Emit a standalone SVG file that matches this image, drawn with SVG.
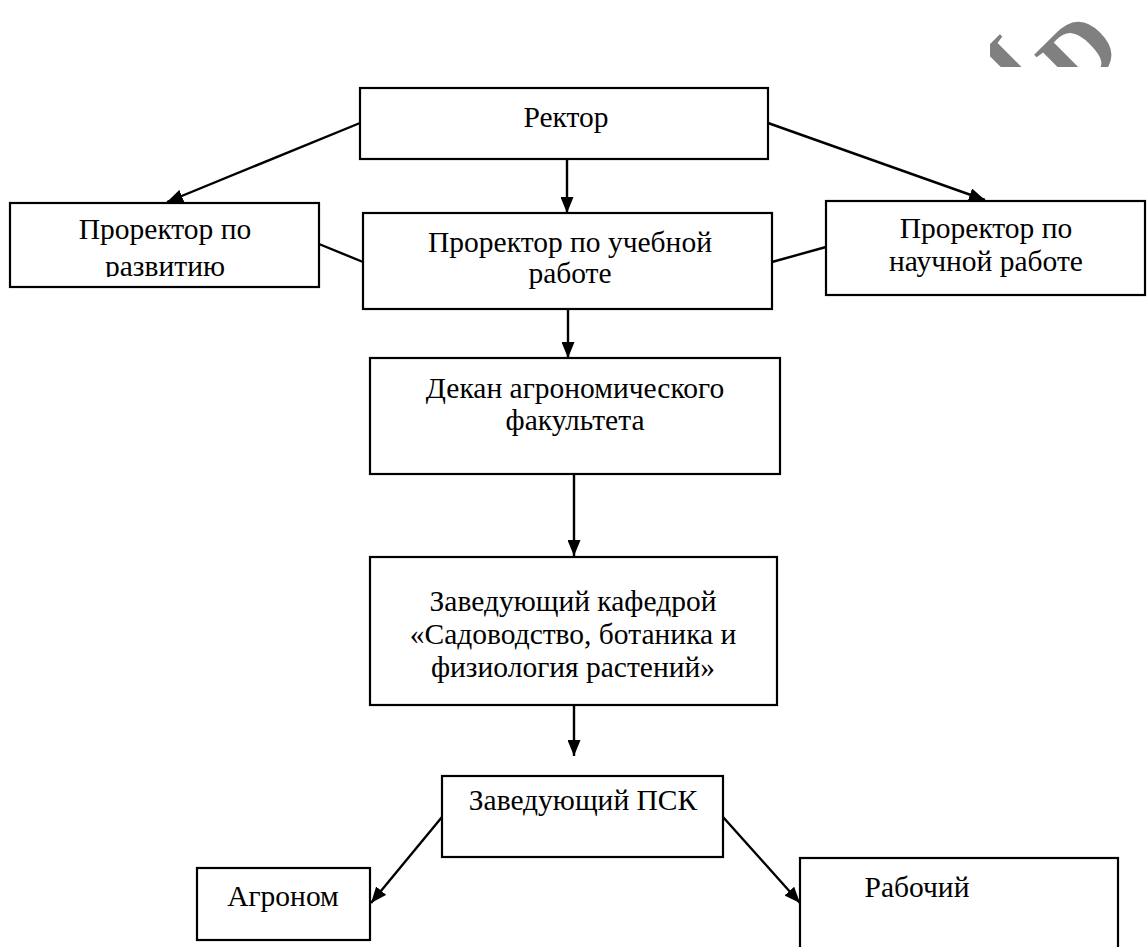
<svg xmlns="http://www.w3.org/2000/svg" width="1147" height="947" viewBox="0 0 1147 947">
<style>
.box{fill:#fff;stroke:#000;stroke-width:2.2}
.t{font-family:'Liberation Serif','Times New Roman',serif;font-size:29.5px;fill:#000;text-anchor:middle}
.c{stroke:#000;stroke-width:2.4;fill:none}
.a{marker-end:url(#ah)}
</style>
<defs>
<marker id="ah" markerUnits="userSpaceOnUse" markerWidth="16" markerHeight="13" refX="16" refY="6.5" orient="auto">
<path d="M0,0 L16,6.5 L0,13 z" fill="#000"/>
</marker>
<clipPath id="wm"><rect x="990" y="0" width="157" height="67"/></clipPath>
<clipPath id="lclip"><rect x="10" y="203" width="309" height="74"/></clipPath>
</defs>
<rect width="1147" height="947" fill="#fff"/>
<g id="watermark" clip-path="url(#wm)">
<text x="0" y="0" transform="translate(1077,100) rotate(-45)" font-family="Liberation Serif, serif" font-weight="bold" font-size="95" fill="#808080">D</text>
<text x="0" y="0" transform="translate(1020,102) rotate(-45)" font-family="Liberation Serif, serif" font-weight="bold" font-size="95" fill="#808080">I</text>
</g>
<g id="connectors">
<line class="c a" x1="360" y1="123" x2="167" y2="202"/>
<line class="c a" x1="567" y1="159" x2="567" y2="213"/>
<line class="c a" x1="768" y1="123" x2="985" y2="200"/>
<line class="c" x1="319" y1="244" x2="363" y2="262"/>
<line class="c" x1="772" y1="262" x2="826" y2="247"/>
<line class="c a" x1="568" y1="309" x2="568" y2="358"/>
<line class="c a" x1="574" y1="474" x2="574" y2="556"/>
<line class="c a" x1="574" y1="705" x2="574" y2="756"/>
<line class="c a" x1="442" y1="817" x2="371" y2="903"/>
<line class="c a" x1="723" y1="817" x2="800" y2="903"/>
</g>
<g id="rector">
<rect class="box" x="360" y="88" width="408" height="71"/>
<text class="t" x="566" y="127">Ректор</text>
</g>
<g id="prorector-razvitie">
<rect class="box" x="10" y="203" width="309" height="84"/>
<g clip-path="url(#lclip)">
<text class="t" x="165" y="239">Проректор по</text>
<text class="t" x="165" y="276">развитию</text>
</g>
</g>
<g id="prorector-ucheb">
<rect class="box" x="363" y="213" width="409" height="96"/>
<text class="t" x="570" y="252">Проректор по учебной</text>
<text class="t" x="570" y="283">работе</text>
</g>
<g id="prorector-nauch">
<rect class="box" x="826" y="201" width="319" height="94"/>
<text class="t" x="986" y="238">Проректор по</text>
<text class="t" x="986" y="271">научной работе</text>
</g>
<g id="dekan">
<rect class="box" x="370" y="358" width="410" height="116"/>
<text class="t" x="575" y="398">Декан агрономического</text>
<text class="t" x="575" y="430">факультета</text>
</g>
<g id="zav-kaf">
<rect class="box" x="370" y="557" width="407" height="148"/>
<text class="t" x="573" y="611">Заведующий кафедрой</text>
<text class="t" x="573" y="644">«Садоводство, ботаника и</text>
<text class="t" x="573" y="677">физиология растений»</text>
</g>
<g id="zav-psk">
<rect class="box" x="442" y="776" width="281" height="81"/>
<text class="t" x="583" y="810">Заведующий ПСК</text>
</g>
<g id="agronom">
<rect class="box" x="197" y="868" width="173" height="72"/>
<text class="t" x="283" y="906">Агроном</text>
</g>
<g id="rabochiy">
<rect class="box" x="800" y="858" width="318" height="100"/>
<text class="t" x="917" y="897">Рабочий</text>
</g>
</svg>
